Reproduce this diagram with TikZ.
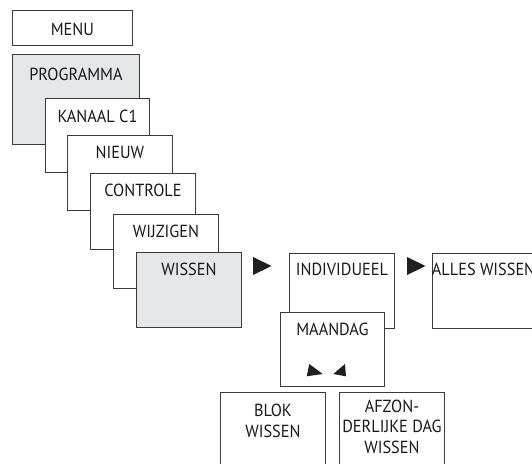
\documentclass[tikz,border=0pt]{standalone}
\usepackage{fontspec}
\setmainfont[FakeStretch=0.93]{PT Sans}
\definecolor{boxgray}{HTML}{E6E7E8}
\definecolor{boxline}{HTML}{3A3A3A}
\tikzset{
  menubox/.style={draw=boxline, line width=0.9pt, fill=white, text=black!90, anchor=north west,
    inner sep=0pt, minimum width=105pt, text height=23pt, text depth=52pt, align=center,
    font=\fontsize{17.5}{20.5}\selectfont},
  selbox/.style={menubox, fill=boxgray},
  marker/.style={fill=black!88}
}
\begin{document}
\begin{tikzpicture}[x=1pt, y=-1pt]
\useasboundingbox (0,0) rectangle (532,463);
\clip (0,0) rectangle (532,463);
\node[menubox, minimum width=120pt, text height=25pt, text depth=10pt] (menu) at (12,10) {MENU};
\node[selbox, minimum width=127pt, text height=26pt, text depth=64pt] (programma) at (12,54) {PROGRAMMA};
\node[menubox, minimum width=104pt, text height=24pt, text depth=50pt] (kanaal) at (45,98) {KANAAL C1};
\node[menubox] (nieuw) at (67,135) {NIEUW};
\node[menubox, text depth=53pt] (controle) at (90,173) {CONTROLE};
\node[menubox, text depth=51pt] (wijzigen) at (113,214) {WIJZIGEN};
\node[selbox] (wissen) at (136,252) {WISSEN};
\node[menubox, text height=22pt, text depth=53pt] (individueel) at (289,253) {INDIVIDUEEL};
\node[menubox, minimum width=101.5pt, text height=22pt, text depth=53pt] (alles) at (431.5,253) {ALLES WISSEN};
\node[menubox, minimum width=104pt, text depth=51pt] (maandag) at (280,312) {MAANDAG};
\node[menubox, text height=45pt, text depth=30pt] (blok) at (220,392) {BLOK\\WISSEN};
\node[menubox, text height=61pt, text depth=14pt] (afzon) at (339,392) {AFZON-\\DERLIJKE DAG\\WISSEN};
\fill[marker] (253,257) -- (271.5,266) -- (253,275) -- cycle;
\fill[marker] (407,257) -- (425.5,266) -- (407,275) -- cycle;
\fill[marker] (309.3,364) -- (322.7,374) -- (306.7,376.3) -- cycle;
\fill[marker] (345,364) -- (333.3,374) -- (346,376.3) -- cycle;
\end{tikzpicture}
\end{document}
